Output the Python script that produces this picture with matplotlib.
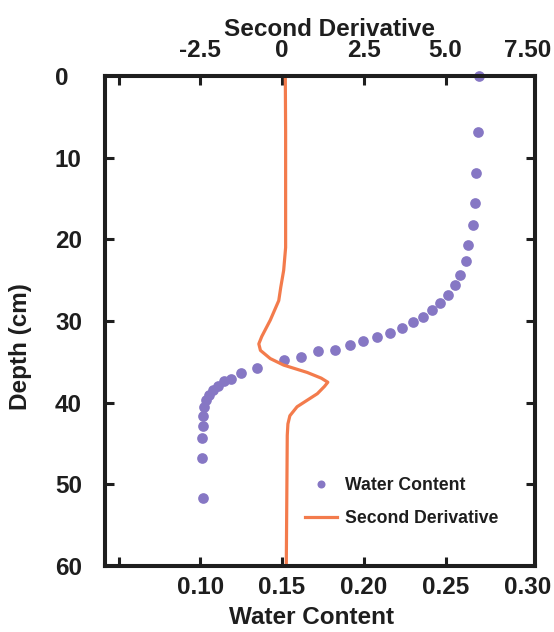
import matplotlib
matplotlib.use("Agg")
import matplotlib.pyplot as plt

# ---- data -------------------------------------------------------------
water_content = [0.2705, 0.2696, 0.2689, 0.2679, 0.2667, 0.2640, 0.2622, 0.2589,
                 0.2556, 0.2515, 0.2466, 0.2419, 0.2363, 0.2302, 0.2232, 0.2162,
                 0.2081, 0.1998, 0.1914, 0.1824, 0.1718, 0.1613, 0.1511, 0.1346,
                 0.1248, 0.1189, 0.1148, 0.1106, 0.1076, 0.1055, 0.1035, 0.1020,
                 0.1014, 0.1014, 0.1010, 0.1010, 0.1014]
water_depth = [0.0, 6.8, 11.9, 15.5, 18.3, 20.7, 22.6, 24.4,
               25.6, 26.8, 27.8, 28.6, 29.5, 30.1, 30.8, 31.5,
               32.0, 32.5, 32.9, 33.5, 33.7, 34.4, 34.8, 35.7,
               36.4, 37.1, 37.4, 37.9, 38.4, 39.1, 39.7, 40.5,
               41.6, 42.8, 44.3, 46.8, 51.7]

second_derivative = [0.10, 0.11, 0.11, 0.11, 0.05, -0.04, -0.10, -0.36, -0.62, -0.71,
                     -0.66, -0.36, 0.05, 0.77, 1.20, 1.40, 1.30, 1.08, 0.46, 0.24,
                     0.18, 0.16, 0.15, 0.13]
deriv_depth = [0.0, 6.8, 15.3, 21.0, 23.8, 25.9, 27.5, 29.9, 31.9, 32.8,
               33.6, 34.6, 35.4, 36.3, 37.0, 37.5, 38.0, 38.9, 40.5, 41.6,
               42.6, 44.0, 49.5, 60.0]

wc_ticks = [0.05, 0.10, 0.15, 0.20, 0.25, 0.30]
wc_ticklabels = ["", "0.10", "0.15", "0.20", "0.25", "0.30"]
sd_ticks = [-5.0, -2.5, 0.0, 2.5, 5.0, 7.5]
sd_ticklabels = ["", "-2.5", "0", "2.5", "5.0", "7.50"]
depth_ticks = [0, 10, 20, 30, 40, 50, 60]

# ---- style ------------------------------------------------------------
plt.rcParams["font.family"] = ["Liberation Sans", "DejaVu Sans"]
plt.rcParams["font.weight"] = "bold"
TXT = "#1e1e1e"
DOT = "#8677C4"
LINE = "#F37B4C"
FS = 17.5

fig = plt.figure(figsize=(5.54, 6.32), dpi=100)
ax = fig.add_axes([0.18953, 0.10443, 0.77617, 0.77532])
ax2 = ax.twiny()

wlim = (0.04174, 0.3047)
ax.set_xlim(*wlim)
ax2.set_xlim((wlim[0] - 0.15) * 50, (wlim[1] - 0.15) * 50)
ax.set_ylim(60, 0)

h1, = ax.plot(water_content, water_depth, "o", color=DOT, markersize=7.7,
              markeredgewidth=0, linestyle="none", clip_on=False, zorder=3,
              label="Water Content")
h2, = ax2.plot(second_derivative, deriv_depth, "-", color=LINE, linewidth=2.3,
               zorder=2, label="Second Derivative", solid_joinstyle="round")

for a in (ax, ax2):
    for s in a.spines.values():
        s.set_linewidth(2.9)
        s.set_color(TXT)

ax.set_xticks(wc_ticks)
ax.set_xticklabels(wc_ticklabels)
ax.set_yticks(depth_ticks)
ax.set_yticklabels([str(t) for t in depth_ticks])
ax.tick_params(axis="x", direction="in", length=6.5, width=2.2, color=TXT,
               labelsize=FS, labelcolor=TXT, pad=7, bottom=True, top=False)
ax.tick_params(axis="y", direction="in", length=6.5, width=2.2, color=TXT,
               labelsize=FS, labelcolor=TXT, pad=36, left=True, right=True)
for lbl in ax.get_yticklabels():
    lbl.set_horizontalalignment("left")
# hide tick marks that sit on the spines
xt = ax.xaxis.get_major_ticks()
xt[-1].tick1line.set_visible(False)
yt = ax.yaxis.get_major_ticks()
for i in (0, len(yt) - 1):
    yt[i].tick1line.set_visible(False)
    yt[i].tick2line.set_visible(False)

ax2.set_xticks(sd_ticks)
ax2.set_xticklabels(sd_ticklabels)
ax2.tick_params(axis="x", direction="in", length=6.5, width=2.2, color=TXT,
                labelsize=FS, labelcolor=TXT, pad=10)
ax2.xaxis.get_major_ticks()[-1].tick2line.set_visible(False)

ax.set_xlabel("Water Content", fontsize=FS, fontweight="bold", color=TXT)
ax.xaxis.set_label_coords(0.481, -0.0816)
ax.set_ylabel("Depth (cm)", fontsize=FS, fontweight="bold", color=TXT)
ax.yaxis.set_label_coords(-0.170, 0.447)
ax2.set_xlabel("Second Derivative", fontsize=FS, fontweight="bold", color=TXT)
ax2.xaxis.set_label_coords(0.521, 1.0816)

leg = ax2.legend(handles=[h1, h2], loc="upper left", bbox_to_anchor=(0.465, 0.1816),
                 frameon=False, borderpad=0, borderaxespad=0, handlelength=1.8,
                 handletextpad=0.45, labelspacing=0.9, markerscale=0.75,
                 prop={"family": "Liberation Sans", "weight": "bold", "size": 12.7})
for t in leg.get_texts():
    t.set_color(TXT)

fig.savefig("out.png", dpi=100)
